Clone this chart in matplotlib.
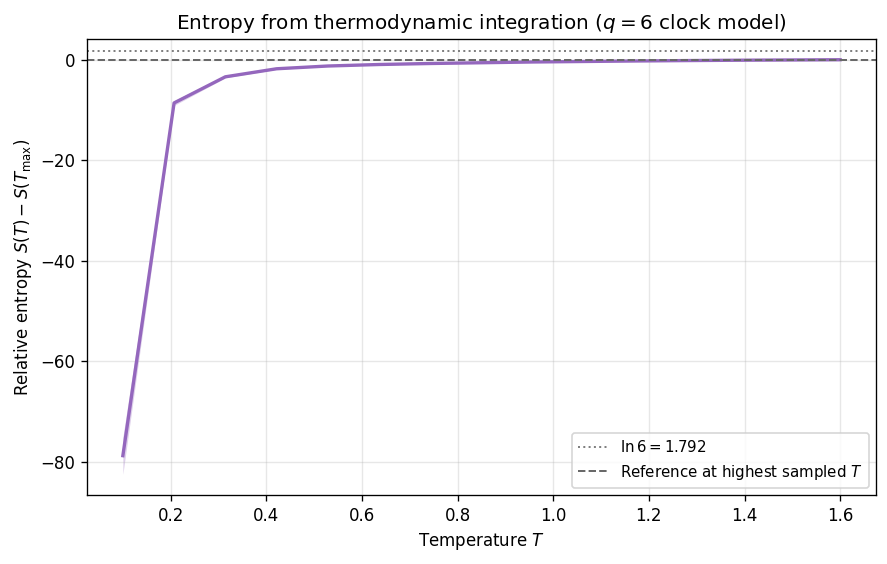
import numpy as np
import matplotlib.pyplot as plt

# Temperature grid and relative entropy S(T) - S(T_max)
temps = np.linspace(0.1, 1.6, 15)
entropy = [-78.8, -8.6, -3.4, -1.8, -1.25, -0.95, -0.75, -0.6,
           -0.45, -0.35, -0.25, -0.17, -0.1, -0.05, 0.0]
entropy_err = [3.7, 0.5, 0.2, 0.12, 0.09, 0.07, 0.06, 0.05,
               0.04, 0.03, 0.03, 0.02, 0.01, 0.01, 0.0]
ln_q = np.log(6)

entropy = np.array(entropy)
entropy_err = np.array(entropy_err)

fig, ax = plt.subplots(figsize=(887 / 120, 564 / 120), dpi=120)
ax.fill_between(temps, entropy - entropy_err, entropy + entropy_err,
                color='tab:purple', alpha=0.3, linewidth=0)
ax.plot(temps, entropy, color='tab:purple', linewidth=2)
ax.axhline(ln_q, color='gray', linestyle=':', linewidth=1.2,
           label=r'$\ln 6 = 1.792$')
ax.axhline(0, color='dimgray', linestyle='--', linewidth=1.2,
           label='Reference at highest sampled $T$')

ax.set_xlabel('Temperature $T$')
ax.set_ylabel(r'Relative entropy $S(T) - S(T_{\max})$')
ax.set_title(r'Entropy from thermodynamic integration ($q = 6$ clock model)',
             fontsize=12)
ax.grid(True, alpha=0.3)
ax.legend(loc='lower right', fontsize=9)

fig.subplots_adjust(left=87 / 887, right=876 / 887, top=1 - 39 / 564, bottom=1 - 495 / 564)
fig.savefig('out.png')
